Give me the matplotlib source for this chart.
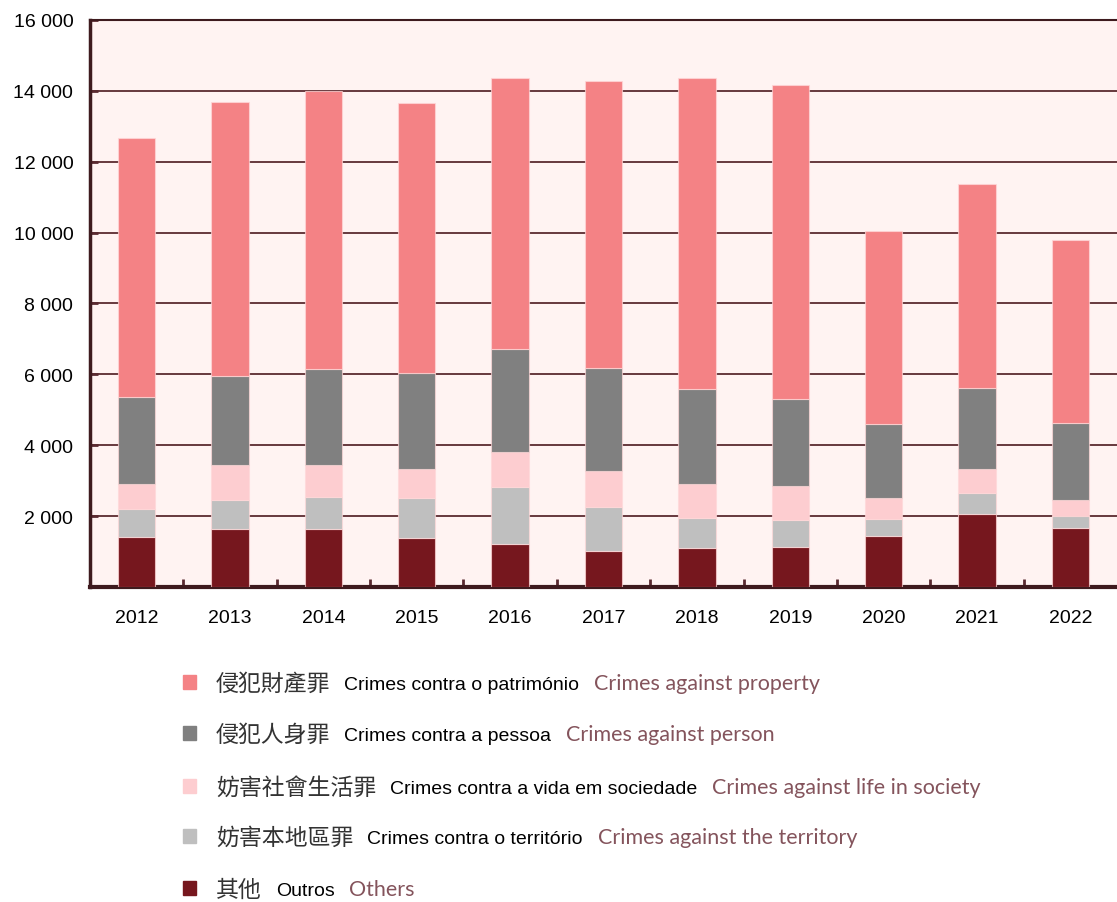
import matplotlib
matplotlib.use("Agg")
import matplotlib.pyplot as plt
from matplotlib import font_manager as fm
import numpy as np

years = ["2012", "2013", "2014", "2015", "2016", "2017", "2018", "2019", "2020", "2021", "2022"]
others = [1400, 1637, 1637, 1374, 1222, 1025, 1101, 1129, 1439, 2060, 1665]
territory = [800, 818, 903, 1138, 1591, 1233, 846, 753, 471, 593, 347]
society = [706, 979, 903, 818, 987, 1007, 968, 960, 602, 668, 452]
person = [2464, 2512, 2709, 2718, 2907, 2915, 2673, 2463, 2096, 2303, 2172]
property_ = [7300, 7732, 7854, 7602, 7666, 8099, 8767, 8862, 5438, 5740, 5148]

labels_zh = ["侵犯財產罪", "侵犯人身罪", "妨害社會生活罪", "妨害本地區罪", "其他"]
labels_pt = ["Crimes contra o património", "Crimes contra a pessoa",
             "Crimes contra a vida em sociedade", "Crimes contra o território", "Outros"]
labels_en = ["Crimes against property", "Crimes against person",
             "Crimes against life in society", "Crimes against the territory", "Others"]
yticks = [2000, 4000, 6000, 8000, 10000, 12000, 14000, 16000]

colors = {"property": "#F48285", "person": "#808080", "society": "#FDCDD0",
          "territory": "#BFBFBF", "others": "#76171E"}

names = {f.name for f in fm.fontManager.ttflist}
narrow = "Liberation Sans Narrow" if "Liberation Sans Narrow" in names else "Liberation Sans"

fig = plt.figure(figsize=(11.17, 9.03), dpi=100)
ax = fig.add_axes([90/1117, 1-588/903, 1-90/1117, (588-21)/903])
ax.set_facecolor("#FFF3F2")

x = np.arange(len(years))
w = 0.4
series = [(others, colors["others"]), (territory, colors["territory"]),
          (society, colors["society"]), (person, colors["person"]),
          (property_, colors["property"])]
bottom = np.zeros(len(years))
for vals, c in series:
    ax.bar(x, vals, w, bottom=bottom, color=c, edgecolor=(1, 0.85, 0.85, 0.7),
           linewidth=0.8, zorder=3)
    bottom += np.array(vals)

ax.set_xlim(-0.5, len(years) - 0.5)
ax.set_ylim(0, 16000)
ax.set_yticks(yticks)
ax.set_yticklabels([f"{v:,}".replace(",", " ") for v in yticks], fontsize=14, family=narrow)
ax.yaxis.grid(True, color="#5A2A30", linewidth=1.3, zorder=1)
ax.tick_params(axis="y", direction="in", length=6, width=2, color="#5A2A30", pad=12)

ax.set_xticks(x)
ax.set_xticklabels(years, fontsize=14, family=narrow)
ax.tick_params(axis="x", length=0, pad=16)
ax.set_xticks(x[:-1] + 0.5, minor=True)
ax.tick_params(axis="x", which="minor", direction="in", length=6, width=2, color="#5A2A30")

for s in ["left", "bottom", "top"]:
    ax.spines[s].set_color("#3E1A1E")
ax.spines["left"].set_linewidth(2.5)
ax.spines["bottom"].set_linewidth(3)
ax.spines["top"].set_linewidth(1.5)
ax.spines["right"].set_visible(False)

# custom legend
leg_colors = [colors["property"], colors["person"], colors["society"],
              colors["territory"], colors["others"]]
rows_y = [683, 734, 787, 837, 889]
fig.canvas.draw()
renderer = fig.canvas.get_renderer()
for zh, pt, en, c, yy in zip(labels_zh, labels_pt, labels_en, leg_colors, rows_y):
    fig.patches.append(plt.Rectangle((183/1117, 1 - (yy + 7)/903), 13/1117, 14/903,
                                     transform=fig.transFigure, color=c, figure=fig))
    t1 = fig.text(216/1117, 1 - (yy + 7.5)/903, zh, fontsize=16.5,
                  family=["Noto Sans CJK TC", "DejaVu Sans"],
                  color="#333333", va="baseline", fontweight="light")
    bb = t1.get_window_extent(renderer)
    x2 = bb.x1 + 14
    t2 = fig.text(x2/1117, 1 - (yy + 7)/903, pt, fontsize=14, family=narrow, color="black",
                  va="baseline")
    bb2 = t2.get_window_extent(renderer)
    x3 = bb2.x1 + 15
    fig.text(x3/1117, 1 - (yy + 7)/903, en, fontsize=15.5, family="Lato",
             color="#84545C", va="baseline")

fig.savefig("out.png", dpi=100, facecolor="white")
